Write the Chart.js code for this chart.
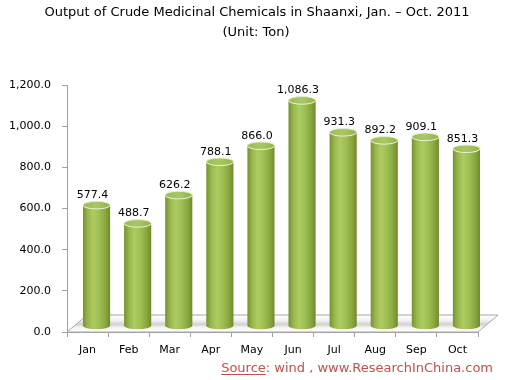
<!DOCTYPE html>
<html>
<head>
<meta charset="utf-8">
<script src="https://cdn.jsdelivr.net/npm/chart.js@4/dist/chart.umd.min.js"></script>
<style>
html,body{margin:0;padding:0;background:#fff;}
#c{display:block;}
</style>
</head>
<body>
<canvas id="c" width="506" height="380"></canvas>
<script>
const titleLines = ["Output of Crude Medicinal Chemicals in Shaanxi, Jan. \u2013 Oct. 2011", "(Unit: Ton)"];
const months = ["Jan","Feb","Mar","Apr","May","Jun","Jul","Aug","Sep","Oct"];
const output = [577.4, 488.7, 626.2, 788.1, 866.0, 1086.3, 931.3, 892.2, 909.1, 851.3];
const yTicks = [0, 200, 400, 600, 800, 1000, 1200];
const sourceLabel = "Source";
const sourceRest = ": wind , www.ResearchInChina.com";

const FONT = "'DejaVu Sans', sans-serif";
const fmt = v => Number(v).toLocaleString('en-US', {minimumFractionDigits: 1, maximumFractionDigits: 1});

const DEPTH_X = 20, DEPTH_Y = 17;   // floor depth
const SHIFT_X = 9, SHIFT_Y = 7;     // bar offset into depth
const RY = 3.8;

const cylinderPlugin = {
  id: 'cyl',
  beforeDatasetsDraw(chart) {
    const ctx = chart.ctx;
    const ca = chart.chartArea;
    const y0 = chart.scales.y.getPixelForValue(0);
    ctx.save();
    ctx.beginPath();
    ctx.moveTo(ca.left, y0);
    ctx.lineTo(ca.right, y0);
    ctx.lineTo(ca.right + DEPTH_X, y0 - DEPTH_Y);
    ctx.lineTo(ca.left + DEPTH_X, y0 - DEPTH_Y);
    ctx.closePath();
    const g = ctx.createLinearGradient(0, y0 - DEPTH_Y, 0, y0);
    g.addColorStop(0, '#ffffff');
    g.addColorStop(0.3, '#f4f4f4');
    g.addColorStop(0.55, '#d2d2d2');
    g.addColorStop(0.75, '#f6f6f6');
    g.addColorStop(1, '#ffffff');
    ctx.fillStyle = g;
    ctx.fill();
    ctx.strokeStyle = '#a6a6a6';
    ctx.lineWidth = 1;
    ctx.stroke();
    ctx.restore();
  },
  afterDatasetsDraw(chart) {
    const ctx = chart.ctx;
    const meta = chart.getDatasetMeta(0);
    ctx.save();
    meta.data.forEach((el, i) => {
      const p = el.getProps(['x', 'y', 'base', 'width'], true);
      const cx = p.x + SHIFT_X;
      const top = p.y - SHIFT_Y - 1;
      const bot = p.base - SHIFT_Y + 1;
      const hw = p.width / 2;
      ctx.beginPath();
      ctx.moveTo(cx - hw, top);
      ctx.lineTo(cx - hw, bot);
      ctx.ellipse(cx, bot, hw, RY, 0, Math.PI, 0, true);
      ctx.lineTo(cx + hw, top);
      ctx.ellipse(cx, top, hw, RY, 0, 0, Math.PI, false);
      ctx.closePath();
      const g = ctx.createLinearGradient(cx - hw, 0, cx + hw, 0);
      g.addColorStop(0, '#76922f');
      g.addColorStop(0.18, '#98b74c');
      g.addColorStop(0.38, '#adcb62');
      g.addColorStop(0.6, '#9fbf55');
      g.addColorStop(0.85, '#86a53c');
      g.addColorStop(1, '#6f8a2a');
      ctx.fillStyle = g;
      ctx.fill();
      ctx.beginPath();
      ctx.ellipse(cx, top, hw, RY, 0, 0, Math.PI * 2);
      const tg = ctx.createLinearGradient(cx - hw, 0, cx + hw, 0);
      tg.addColorStop(0, '#9dbb55');
      tg.addColorStop(0.5, '#a9c763');
      tg.addColorStop(1, '#93b24a');
      ctx.fillStyle = tg;
      ctx.fill();
      ctx.strokeStyle = '#e6efcf';
      ctx.lineWidth = 1;
      ctx.stroke();
      ctx.fillStyle = '#000';
      ctx.font = '11px ' + FONT;
      ctx.textAlign = 'center';
      ctx.textBaseline = 'middle';
      ctx.fillText(fmt(output[i]), p.x + 5, p.y - 18);
    });
    ctx.restore();
  },
  afterDraw(chart) {
    const ctx = chart.ctx;
    ctx.save();
    // title
    ctx.fillStyle = '#000';
    ctx.font = '13px ' + FONT;
    ctx.textAlign = 'center';
    ctx.textBaseline = 'middle';
    ctx.fillText(titleLines[0], 257, 13);
    ctx.fillText(titleLines[1], 256, 33);
    // source
    ctx.font = '13px ' + FONT;
    ctx.fillStyle = '#c0504d';
    ctx.textBaseline = 'alphabetic';
    ctx.textAlign = 'left';
    const w1 = ctx.measureText(sourceLabel).width;
    const w2 = ctx.measureText(sourceRest).width;
    const xEnd = 493, base = 372;
    const x0 = xEnd - w1 - w2;
    ctx.fillText(sourceLabel, x0, base);
    ctx.fillText(sourceRest, x0 + w1, base);
    ctx.fillRect(x0, base + 2, w1, 1);
    ctx.restore();
  }
};

new Chart(document.getElementById('c'), {
  type: 'bar',
  data: {
    labels: months,
    datasets: [{
      data: output,
      backgroundColor: 'rgba(0,0,0,0)',
      borderWidth: 0,
      categoryPercentage: 1.0,
      barPercentage: 0.66
    }]
  },
  options: {
    responsive: false,
    animation: false,
    devicePixelRatio: 1,
    layout: { padding: { left: 0, right: 28, top: 85, bottom: 20 } },
    plugins: {
      legend: { display: false },
      tooltip: { enabled: false },
      title: { display: false }
    },
    scales: {
      x: {
        grid: { display: true, drawOnChartArea: false, tickLength: 5, color: '#a0a0a0', offset: true },
        border: { display: true, color: '#a0a0a0' },
        ticks: { color: '#000', font: { family: FONT, size: 11 }, padding: 7 },
        afterFit(s) { s.height = 28; }
      },
      y: {
        min: 0, max: 1200,
        afterBuildTicks(s) { s.ticks = yTicks.map(v => ({ value: v })); },
        grid: { display: true, drawOnChartArea: false, tickLength: 5, color: '#a0a0a0' },
        border: { display: true, color: '#a0a0a0' },
        ticks: { color: '#000', font: { family: FONT, size: 11 }, padding: 11, callback: v => fmt(v) },
        afterFit(s) { s.width = 67; }
      }
    }
  },
  plugins: [cylinderPlugin]
});
</script>
</body>
</html>
